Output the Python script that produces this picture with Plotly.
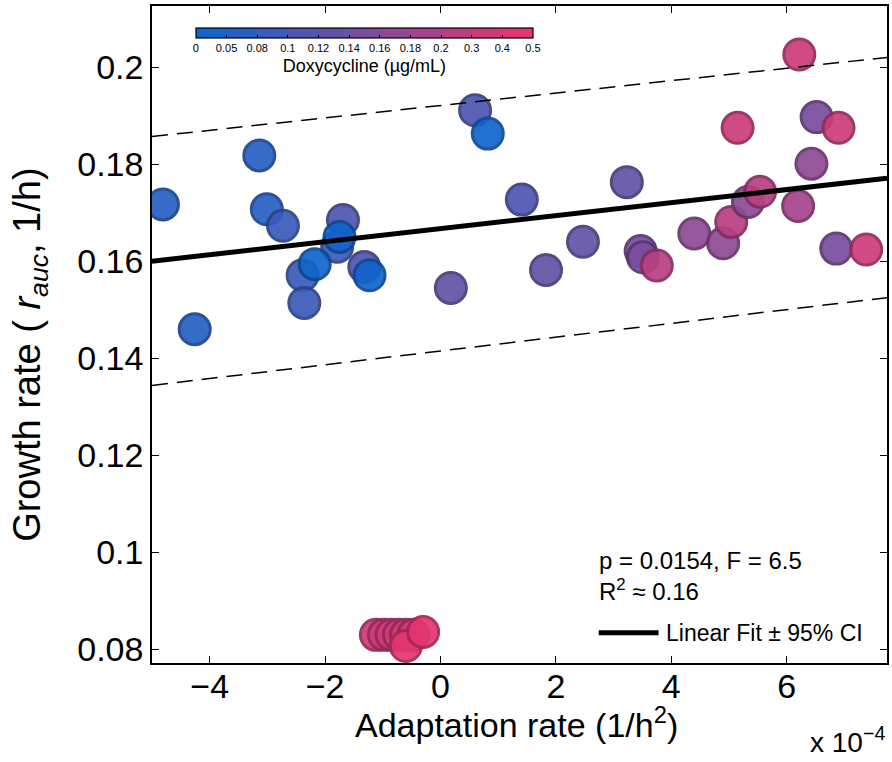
import plotly.graph_objects as go

# Doxycycline levels shown on the colour bar (bin edges) and bin colours
dose_edges = ["0", "0.05", "0.08", "0.1", "0.12", "0.14", "0.16", "0.18", "0.2", "0.3", "0.4", "0.5"]
bin_colors = [
    (16, 100, 204), (37, 95, 195), (58, 91, 186), (79, 86, 176), (100, 82, 167),
    (121, 77, 158), (142, 73, 149), (163, 68, 140), (184, 63, 130), (205, 59, 121),
    (228, 54, 112),
]

# Adaptation rate (x 1e-4 1/h^2), growth rate (1/h), dose bin index
adapt_rate = [
    -4.81, -4.26, -3.14, -3.01, -2.73, -1.69, -1.79, -1.75, -2.39, -2.18,
    -2.36, -1.32, -1.23, 0.18, 0.60, 0.82, 1.41, 1.83, 2.47, 3.23,
    3.47, 3.51, 3.75, 4.40, 4.90, 5.04, 5.33, 5.54, 5.15, 6.20,
    6.22, 6.43, 6.52, 6.90, 6.86, 7.38,
    -1.12, -0.98, -0.85, -0.72, -0.60, -0.47, -0.60, -0.30,
]
growth_rate = [
    0.1717, 0.1460, 0.1818, 0.1707, 0.1673, 0.1685, 0.1630, 0.1650, 0.1571, 0.1594,
    0.1514, 0.1588, 0.1571, 0.1545, 0.1911, 0.1863, 0.1727, 0.1582, 0.1640, 0.1763,
    0.1621, 0.1608, 0.1591, 0.1657, 0.1637, 0.1681, 0.1722, 0.1743, 0.1875, 0.1714,
    0.2026, 0.1801, 0.1897, 0.1875, 0.1626, 0.1624,
    0.0830, 0.0830, 0.0830, 0.0830, 0.0830, 0.0830, 0.0807, 0.0836,
]
dose_bin = [
    1, 1, 1, 1, 2, 3, 2, 0, 2, 0,
    2, 3, 0, 4, 3, 0, 3, 4, 4, 4,
    5, 5, 8, 6, 6, 8, 6, 8, 9, 7,
    9, 6, 5, 9, 5, 9,
    9, 9, 9, 9, 9, 9, 10, 10,
]

# Linear fit and 95% confidence bounds at the axis ends
fit_x = [-5.0, 7.74]
fit_y = [0.1600, 0.1771]
ci_upper = [0.1857, 0.2020]
ci_lower = [0.1344, 0.1525]

FONT = "Liberation Sans, Arial, Helvetica, sans-serif"

def rgb(c, k=1.0):
    return "rgb(%d,%d,%d)" % tuple(int(round(v * k)) for v in c)

n_bins = len(bin_colors)
colorscale = []
for i, c in enumerate(bin_colors):
    colorscale.append([i / n_bins, rgb(c)])
    colorscale.append([(i + 1) / n_bins, rgb(c)])

fig = go.Figure()

fig.add_trace(go.Scatter(
    x=adapt_rate, y=growth_rate, mode="markers", showlegend=False,
    marker=dict(
        size=31, opacity=0.92,
        color=[b + 0.5 for b in dose_bin], colorscale=colorscale, cmin=0, cmax=n_bins,
        line=dict(width=3, color=[rgb(bin_colors[b], 0.72) for b in dose_bin]),
        colorbar=dict(
            orientation="h", x=0.289, xanchor="center", y=0.966, yanchor="top",
            lenmode="pixels", len=337, thickness=10, xpad=0, ypad=0,
            outlinecolor="black", outlinewidth=1.2,
            tickmode="array", tickvals=list(range(n_bins + 1)), ticktext=dose_edges,
            ticks="inside", ticklen=3, tickcolor="black",
            tickfont=dict(family=FONT, size=11, color="black"),
            title=dict(text="Doxycycline (µg/mL)", side="bottom",
                       font=dict(family=FONT, size=18, color="black")),
        ),
    ),
))

fig.add_trace(go.Scatter(
    x=fit_x, y=fit_y, mode="lines", showlegend=False,
    line=dict(color="black", width=5),
))
for bound in (ci_upper, ci_lower):
    fig.add_trace(go.Scatter(
        x=fit_x, y=bound, mode="lines", showlegend=False,
        line=dict(color="black", width=1.5, dash="16px,9px"),
    ))

axis_common = dict(
    showgrid=False, zeroline=False, showline=True, linecolor="black", linewidth=1.5,
    mirror="ticks", ticks="inside", ticklen=7, tickwidth=1, tickcolor="black",
    tickfont=dict(family=FONT, size=34, color="black"),
)

fig.update_layout(
    width=892, height=762,
    margin=dict(l=152, r=3, t=6, b=99),
    paper_bgcolor="white", plot_bgcolor="white",
    font=dict(family=FONT, color="black"),
    xaxis=dict(
        range=[-5.0, 7.74], tickvals=[-4, -2, 0, 2, 4, 6],
        ticktext=["\u22124", "\u22122", "0", "2", "4", "6"],
        ticklabelstandoff=-8,
        **axis_common,
    ),
    yaxis=dict(
        range=[0.0772, 0.2126], tickvals=[0.08, 0.1, 0.12, 0.14, 0.16, 0.18, 0.2],
        ticktext=["0.08", "0.1", "0.12", "0.14", "0.16", "0.18", "0.2"],
        **axis_common,
    ),
    shapes=[
        # legend sample for the fit line
        dict(type="line", xref="paper", yref="paper", x0=0.6078, x1=0.6892, y0=0.046, y1=0.046,
             line=dict(color="black", width=5)),
    ],
    annotations=[
        # axis titles
        dict(text="Adaptation rate (1/h<sup>2</sup>)", xref="paper", yref="paper",
             x=0.496, y=-0.0905, xanchor="center", yanchor="middle", showarrow=False,
             font=dict(family=FONT, size=34, color="black")),
        dict(text="Growth rate ( <i>r</i><sub><i>auc</i></sub>, 1/h)", xref="paper", yref="paper",
             x=-0.166, y=0.469, xanchor="center", yanchor="middle", textangle=-90,
             showarrow=False, font=dict(family=FONT, size=38, color="black")),
        dict(text="Linear Fit ± 95% CI", xref="paper", yref="paper",
             x=0.6969, y=0.046, xanchor="left", yanchor="middle", showarrow=False,
             font=dict(family=FONT, size=23, color="black")),
        dict(text="p = 0.0154, F = 6.5<br>R<sup>2</sup> ≈ 0.16", xref="paper", yref="paper",
             x=0.6049, y=0.133, xanchor="left", yanchor="middle", showarrow=False, align="left",
             font=dict(family=FONT, size=24, color="black")),
        dict(text="x 10<sup>\u22124</sup>", xref="paper", yref="paper",
             x=1.0, y=-0.148, xanchor="right", yanchor="bottom", showarrow=False,
             font=dict(family=FONT, size=28, color="black")),
    ],
)

fig.write_html("out.html")
